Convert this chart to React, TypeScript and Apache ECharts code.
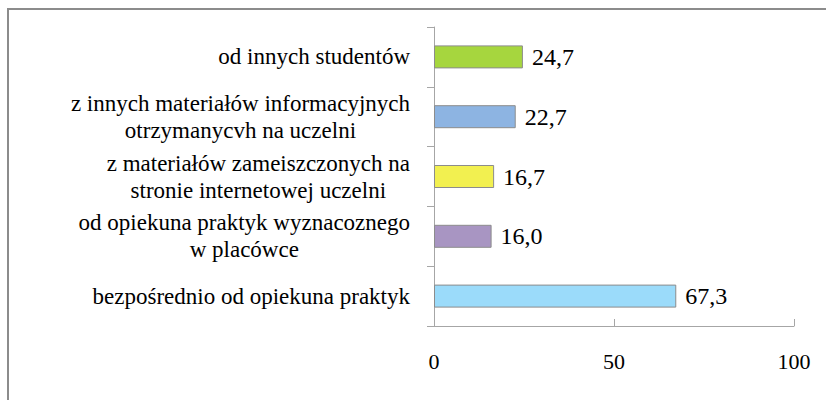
import React, { useEffect, useRef } from "react";
import * as echarts from "echarts";

const categories: string[] = [
  "bezpośrednio od opiekuna praktyk",
  "od opiekuna praktyk wyznacoznego\nw placówce",
  "z materiałów zameiszczonych na\nstronie internetowej uczelni",
  "z innych materiałów informacyjnych\notrzymanycvh na uczelni",
  "od innych studentów",
];
const values: number[] = [67.3, 16.0, 16.7, 22.7, 24.7];
const barColors: string[] = ["#9BDBFA", "#A895C2", "#F2F050", "#8DB4E2", "#A6D63E"];
const xTicks = { min: 0, max: 100, interval: 50 };

const FONT = "Times New Roman, Liberation Serif, DejaVu Serif, serif";

export default function App() {
  const ref = useRef<HTMLDivElement>(null);
  useEffect(() => {
    if (!ref.current) return;
    const chart = echarts.init(ref.current, undefined, { renderer: "svg" });
    chart.setOption({
      animation: false,
      backgroundColor: "#ffffff",
      textStyle: { fontFamily: FONT },
      graphic: [
        {
          type: "polyline",
          shape: { points: [[8, 400], [8, 9], [826, 9]] },
          style: { stroke: "#8c8c8c", lineWidth: 2, fill: "none" },
          silent: true,
        },
      ],
      grid: { left: 434, right: 32, top: 27, bottom: 74, containLabel: false },
      xAxis: {
        type: "value",
        min: xTicks.min,
        max: xTicks.max,
        interval: xTicks.interval,
        splitLine: { show: false },
        axisLine: { show: true, lineStyle: { color: "#a6a6a6", width: 1 } },
        axisTick: { show: true, inside: true, length: 7, lineStyle: { color: "#a6a6a6" } },
        axisLabel: {
          fontFamily: FONT,
          fontSize: 22,
          color: "#000",
          margin: 24,
        },
      },
      yAxis: {
        type: "category",
        data: categories,
        axisLine: { show: true, lineStyle: { color: "#a6a6a6", width: 1 } },
        axisTick: { show: true, length: 7, lineStyle: { color: "#a6a6a6" } },
        axisLabel: {
          margin: 24,
          fontFamily: FONT,
          fontSize: 23,
          color: "#000",
          align: "right",
          formatter: (v: string) =>
            v
              .split("\n")
              .map((l) => `{c|${l}}`)
              .join("\n"),
          rich: {
            c: {
              align: "center",
              fontFamily: FONT,
              fontSize: 23,
              lineHeight: 27,
              color: "#000",
            },
          },
        },
      },
      series: [
        {
          type: "bar",
          barWidth: 23,
          data: values.map((v, i) => ({
            value: v,
            itemStyle: { color: barColors[i], borderColor: "#8c8c8c", borderWidth: 1 },
          })),
          label: {
            show: true,
            position: "right",
            distance: 9,
            fontFamily: FONT,
            fontSize: 24,
            color: "#000",
            formatter: (p: any) => Number(p.value).toFixed(1).replace(".", ","),
          },
        },
      ],
    });
    return () => chart.dispose();
  }, []);
  return (
    <div
      ref={ref}
      style={{ position: "absolute", left: 0, top: 0, width: 826, height: 400 }}
    />
  );
}
